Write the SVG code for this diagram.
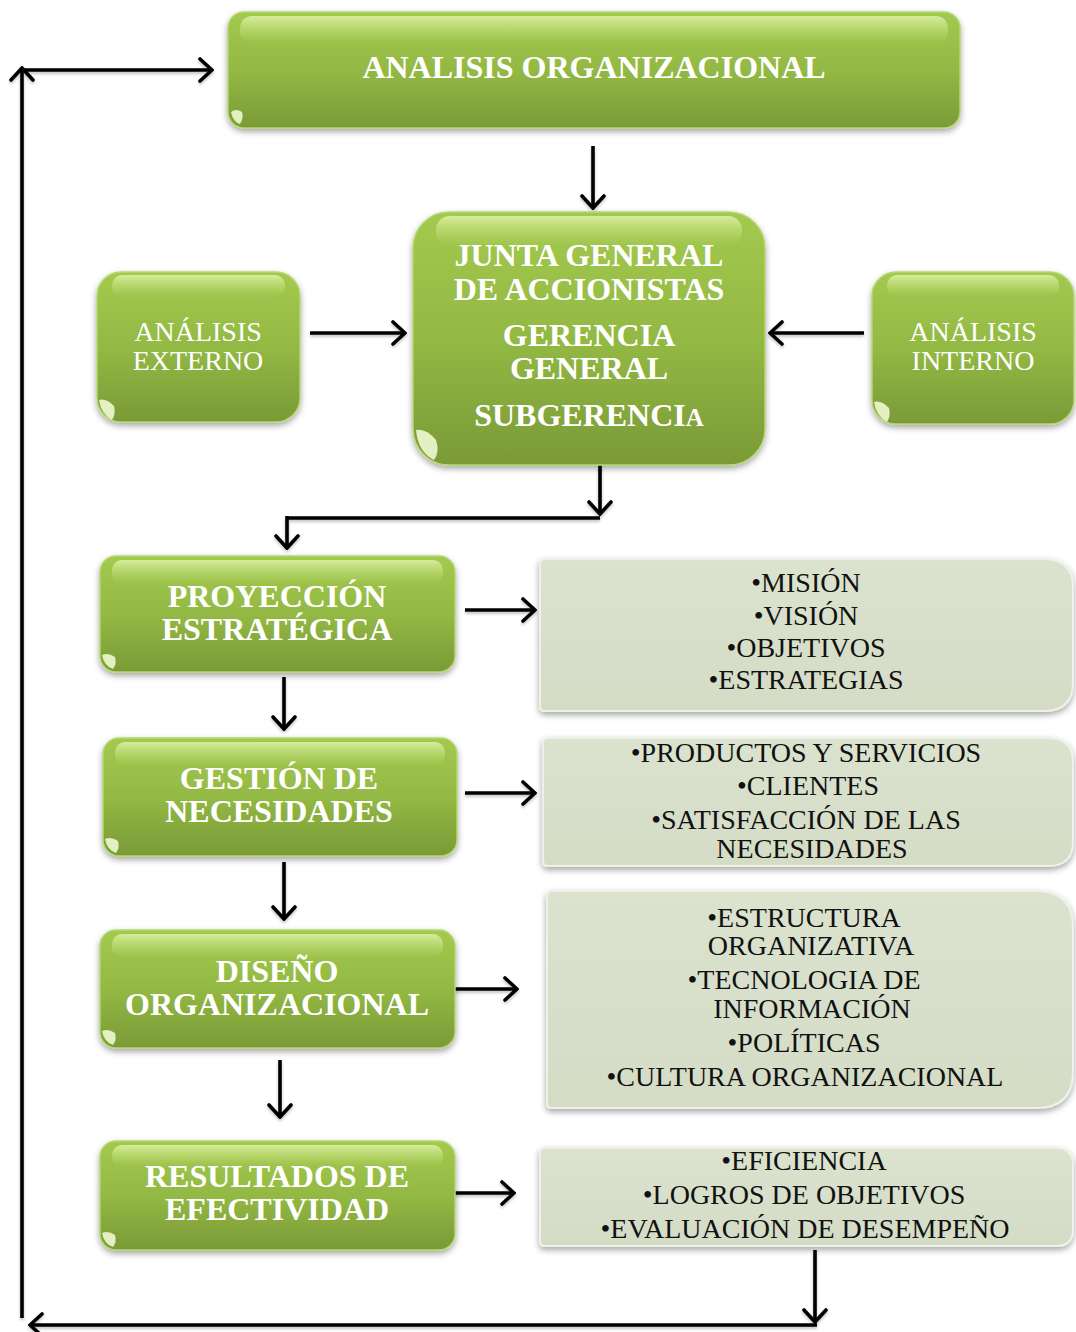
<svg xmlns="http://www.w3.org/2000/svg" width="1076" height="1332" viewBox="0 0 1076 1332">
  <defs>
    <linearGradient id="green" x1="0" y1="0" x2="0" y2="1">
      <stop offset="0" stop-color="#a3c94f"/>
      <stop offset="0.5" stop-color="#93b944"/>
      <stop offset="1" stop-color="#7a9a37"/>
    </linearGradient>
    <linearGradient id="gloss" x1="0" y1="0" x2="0" y2="1">
      <stop offset="0" stop-color="#e4f5b0" stop-opacity="0.8"/>
      <stop offset="1" stop-color="#c6e27a" stop-opacity="0"/>
    </linearGradient>
    <linearGradient id="pale" x1="0" y1="0" x2="0" y2="1">
      <stop offset="0" stop-color="#dbe3cf"/>
      <stop offset="1" stop-color="#d4dcc6"/>
    </linearGradient>
    <filter id="shadow" x="-10%" y="-10%" width="120%" height="130%">
      <feDropShadow dx="0" dy="3" stdDeviation="3" flood-color="#000" flood-opacity="0.35"/>
    </filter>
    <filter id="lineShadow" x="-10%" y="-10%" width="120%" height="120%">
      <feDropShadow dx="0" dy="2" stdDeviation="1.5" flood-color="#000" flood-opacity="0.25"/>
    </filter>
    <marker id="arrow" viewBox="0 0 16 26" refX="14" refY="13" markerWidth="16" markerHeight="26" markerUnits="userSpaceOnUse" orient="auto">
      <path d="M2,2 L14,13 L2,24" fill="none" stroke="#000" stroke-width="3.6" stroke-linecap="round" stroke-linejoin="miter"/>
    </marker>
  </defs>
  <style>
    .g { fill: url(#green); stroke: #b5d870; stroke-width: 1.5; filter: url(#shadow); }
    .gl { fill: url(#gloss); }
    .dot { fill: #eef8d0; opacity: 0.9; }
    .p { fill: url(#pale); stroke: #eef2e6; stroke-width: 2; filter: url(#shadow); }
    .tb { font-family: "Liberation Serif", "Times New Roman", serif; font-weight: bold; font-size: 32px; fill: #ffffff; text-anchor: middle; }
    .tn { font-family: "Liberation Serif", "Times New Roman", serif; font-size: 28px; fill: #ffffff; text-anchor: middle; }
    .tk { font-family: "Liberation Serif", "Times New Roman", serif; font-size: 28px; fill: #111111; text-anchor: middle; }
    .c { fill: none; stroke: #000; stroke-width: 3.6; }
    .ca { fill: none; stroke: #000; stroke-width: 3.6; marker-end: url(#arrow); }
  </style>
  <rect width="1076" height="1332" fill="#ffffff"/>

  <!-- connectors -->
  <g id="connectors" filter="url(#lineShadow)">
    <line class="ca" x1="593" y1="146" x2="593" y2="208"/>
    <line class="ca" x1="22" y1="1318" x2="22" y2="68"/>
    <line class="ca" x1="20" y1="70" x2="212" y2="70"/>
    <line class="ca" x1="310" y1="333" x2="405" y2="333"/>
    <line class="ca" x1="864" y1="333" x2="770" y2="333"/>
    <line class="ca" x1="600" y1="465" x2="600" y2="514"/>
    <polyline class="c" points="600,518 287,518"/>
    <line class="ca" x1="287" y1="516" x2="287" y2="548"/>
    <line class="ca" x1="465" y1="610" x2="535" y2="610"/>
    <line class="ca" x1="284" y1="677" x2="284" y2="729"/>
    <line class="ca" x1="465" y1="793" x2="535" y2="793"/>
    <line class="ca" x1="284" y1="862" x2="284" y2="919"/>
    <line class="ca" x1="450" y1="989" x2="517" y2="989"/>
    <line class="ca" x1="280" y1="1060" x2="280" y2="1117"/>
    <line class="ca" x1="448" y1="1193" x2="514" y2="1193"/>
    <line class="ca" x1="815" y1="1250" x2="815" y2="1322"/>
    <line class="ca" x1="817" y1="1325" x2="30" y2="1325"/>
  </g>

  <!-- top node -->
  <g id="analisis-organizacional">
    <rect class="g" x="228" y="12" width="732" height="116" rx="16"/>
    <rect class="gl" x="240" y="16" width="708" height="28" rx="12"/>
    <path class="dot" d="M231,112 Q236,108 242,112 Q244,118 240,124 Q233,122 231,112 Z"/>
    <text class="tb" x="594" y="78">ANALISIS ORGANIZACIONAL</text>
  </g>

  <g id="junta-general">
    <rect class="g" x="413" y="212" width="352" height="253" rx="36"/>
    <rect class="gl" x="436" y="216" width="306" height="30" rx="14"/>
    <path class="dot" d="M416,430 Q426,428 436,440 Q440,452 434,460 Q418,452 416,430 Z"/>
    <text class="tb" x="589" y="266">JUNTA GENERAL</text>
    <text class="tb" x="589" y="300">DE ACCIONISTAS</text>
    <text class="tb" x="589" y="346">GERENCIA</text>
    <text class="tb" x="589" y="379">GENERAL</text>
    <text class="tb" x="589" y="426">SUBGERENCI<tspan font-size="25">A</tspan></text>
  </g>

  <g id="analisis-externo">
    <rect class="g" x="97" y="272" width="203" height="150" rx="24"/>
    <rect class="gl" x="112" y="275" width="173" height="22" rx="10"/>
    <path class="dot" d="M99,400 Q106,398 114,406 Q116,414 112,420 Q101,414 99,400 Z"/>
    <text class="tn" x="198" y="341">ANÁLISIS</text>
    <text class="tn" x="198" y="370">EXTERNO</text>
  </g>

  <g id="analisis-interno">
    <rect class="g" x="872" y="272" width="202" height="152" rx="24"/>
    <rect class="gl" x="887" y="275" width="172" height="22" rx="10"/>
    <path class="dot" d="M874,402 Q881,400 889,408 Q891,416 887,422 Q876,416 874,402 Z"/>
    <text class="tn" x="973" y="341">ANÁLISIS</text>
    <text class="tn" x="973" y="370">INTERNO</text>
  </g>

  <g id="proyeccion-estrategica">
    <rect class="g" x="100" y="556" width="355" height="116" rx="16"/>
    <rect class="gl" x="112" y="560" width="331" height="24" rx="10"/>
    <path class="dot" d="M102,655 Q108,652 115,657 Q117,664 113,669 Q104,666 102,655 Z"/>
    <text class="tb" x="277" y="607">PROYECCIÓN</text>
    <text class="tb" x="277" y="640">ESTRATÉGICA</text>
  </g>

  <g id="gestion-necesidades">
    <rect class="g" x="103" y="738" width="354" height="118" rx="16"/>
    <rect class="gl" x="115" y="742" width="330" height="24" rx="10"/>
    <path class="dot" d="M105,839 Q111,836 118,841 Q120,848 116,853 Q107,850 105,839 Z"/>
    <text class="tb" x="279" y="789">GESTIÓN DE</text>
    <text class="tb" x="279" y="822">NECESIDADES</text>
  </g>

  <g id="diseno-organizacional">
    <rect class="g" x="100" y="930" width="355" height="118" rx="16"/>
    <rect class="gl" x="112" y="934" width="331" height="24" rx="10"/>
    <path class="dot" d="M102,1031 Q108,1028 115,1033 Q117,1040 113,1045 Q104,1042 102,1031 Z"/>
    <text class="tb" x="277" y="982">DISEÑO</text>
    <text class="tb" x="277" y="1015">ORGANIZACIONAL</text>
  </g>

  <g id="resultados-efectividad">
    <rect class="g" x="100" y="1141" width="355" height="109" rx="16"/>
    <rect class="gl" x="112" y="1145" width="331" height="22" rx="10"/>
    <path class="dot" d="M102,1233 Q108,1230 115,1235 Q117,1242 113,1247 Q104,1244 102,1233 Z"/>
    <text class="tb" x="277" y="1187">RESULTADOS DE</text>
    <text class="tb" x="277" y="1220">EFECTIVIDAD</text>
  </g>

  <!-- detail panels -->
  <g id="lista-proyeccion">
    <path class="p" d="M545,559 H1044 Q1073,559 1073,588 V682 Q1073,711 1044,711 H545 Q540,711 540,706 V564 Q540,559 545,559 Z"/>
    <text class="tk" x="806" y="592">•MISIÓN</text>
    <text class="tk" x="806" y="625">•VISIÓN</text>
    <text class="tk" x="806" y="657">•OBJETIVOS</text>
    <text class="tk" x="806" y="689">•ESTRATEGIAS</text>
  </g>

  <g id="lista-necesidades">
    <path class="p" d="M548,738 H1048 Q1073,738 1073,763 V841 Q1073,866 1048,866 H548 Q543,866 543,861 V743 Q543,738 548,738 Z"/>
    <text class="tk" x="806" y="762">•PRODUCTOS Y SERVICIOS</text>
    <text class="tk" x="808" y="795">•CLIENTES</text>
    <text class="tk" x="806" y="829">•SATISFACCIÓN DE LAS</text>
    <text class="tk" x="812" y="858">NECESIDADES</text>
  </g>

  <g id="lista-diseno">
    <path class="p" d="M552,891 H1036 Q1073,891 1073,928 V1071 Q1073,1108 1036,1108 H552 Q547,1108 547,1103 V896 Q547,891 552,891 Z"/>
    <text class="tk" x="804" y="927">•ESTRUCTURA</text>
    <text class="tk" x="811" y="955">ORGANIZATIVA</text>
    <text class="tk" x="804" y="989">•TECNOLOGIA DE</text>
    <text class="tk" x="812" y="1018">INFORMACIÓN</text>
    <text class="tk" x="804" y="1052">•POLÍTICAS</text>
    <text class="tk" x="805" y="1086">•CULTURA ORGANIZACIONAL</text>
  </g>

  <g id="lista-resultados">
    <path class="p" d="M545,1148 H1056 Q1073,1148 1073,1165 V1229 Q1073,1246 1056,1246 H545 Q540,1246 540,1241 V1153 Q540,1148 545,1148 Z"/>
    <text class="tk" x="804" y="1170">•EFICIENCIA</text>
    <text class="tk" x="804" y="1204">•LOGROS DE OBJETIVOS</text>
    <text class="tk" x="805" y="1238">•EVALUACIÓN DE DESEMPEÑO</text>
  </g>
</svg>
